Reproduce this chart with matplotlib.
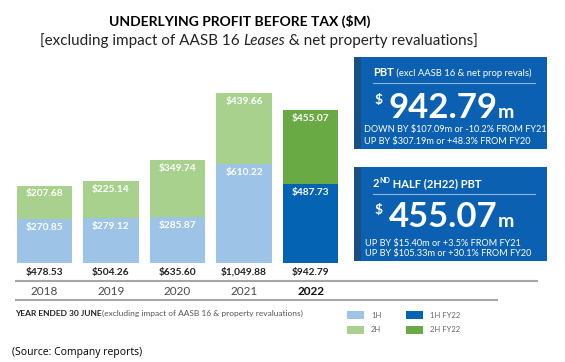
import matplotlib
matplotlib.use('Agg')
import matplotlib.pyplot as plt
from matplotlib.patches import Rectangle

# data
years = ['2018', '2019', '2020', '2021', '2022']
first_half = [270.85, 279.12, 285.87, 610.22, 487.73]
second_half = [207.68, 225.14, 349.74, 439.66, 455.07]
totals = [478.53, 504.26, 635.60, 1049.88, 942.79]

C_1H = '#9DC3E6'
C_2H = '#A9D18E'
C_1H_FY22 = '#0563B3'
C_2H_FY22 = '#6AAA45'
C_BOX = '#0B60B2'
C_STRIPE = '#1B4E82'

FONT = 'Lato'
plt.rcParams['font.family'] = [FONT, 'DejaVu Sans']

fig = plt.figure(figsize=(5.65, 3.62), dpi=100)
W, H = 565, 362

# bar axes, placed in pixel terms
ax_left, ax_right = 11, 344
base_y, top_y = 263, 85
ax = fig.add_axes([ax_left / W, (H - base_y) / H,
                   (ax_right - ax_left) / W, (base_y - top_y) / H])
x = list(range(len(years)))
c1 = [C_1H] * 4 + [C_1H_FY22]
c2 = [C_2H] * 4 + [C_2H_FY22]
ax.bar(x, first_half, width=0.83, color=c1, edgecolor='none')
ax.bar(x, second_half, width=0.83, bottom=first_half, color=c2, edgecolor='none')
ax.set_xlim(-0.5, len(years) - 0.5)
ax.set_ylim(0, 1100)
ax.axis('off')

for i in x:
    ax.annotate(f'${first_half[i]:,.2f}', (i, first_half[i]), xytext=(0, -6),
                textcoords='offset points', ha='center', va='center',
                color='white', fontsize=7.3, fontweight='bold')
    ax.annotate(f'${second_half[i]:,.2f}', (i, totals[i]), xytext=(0, -6),
                textcoords='offset points', ha='center', va='center',
                color='white', fontsize=7.3, fontweight='bold')
    ax.annotate(f'${totals[i]:,.2f}', (i, 0), xytext=(0, -6.5),
                textcoords='offset points', ha='center', va='center',
                color='#222222', fontsize=7.3, fontweight='bold')
    last = i == len(years) - 1
    ax.annotate(years[i], (i, 0), xytext=(0, -20.5),
                textcoords='offset points', ha='center', va='center',
                color='#111111' if last else '#4a4a4a', fontsize=8.5,
                fontweight='bold' if last else 'normal')

# overlay in pixel coordinates for everything else
ov = fig.add_axes([0, 0, 1, 1], facecolor='none')
ov.set_xlim(0, W)
ov.set_ylim(H, 0)
ov.axis('off')

renderer = fig.canvas.get_renderer()


def seq(x0, y, parts, **kw):
    # draw text pieces one after another on the same baseline
    cx = x0
    for txt, style in parts:
        st = dict(kw)
        st.update(style)
        dy = st.pop('dy', 0)
        t = ov.text(cx, y + dy, txt, va='baseline', ha='left', **st)
        bb = t.get_window_extent(renderer)
        cx += bb.width
    return cx


# title
ov.text(240, 21, 'UNDERLYING PROFIT BEFORE TAX ($M)', ha='center', va='center',
        fontsize=10, fontweight='bold', color='black')
sub = [('[excluding impact of AASB 16 ', {}),
       ('Leases', {'fontstyle': 'italic'}),
       (' & net property revaluations]', {})]
# measure for centring
tmp_w = 0
for txt, style in sub:
    t = ov.text(0, 0, txt, fontsize=11, **style)
    tmp_w += t.get_window_extent(renderer).width
    t.remove()
seq(259 - tmp_w / 2, 45, sub, fontsize=11, color='#222222')

# separator lines
ov.plot([15, 538], [281, 281], color='#A6A6A6', lw=1.5, solid_capstyle='butt')
ov.plot([15, 498], [300, 300], color='#A6A6A6', lw=1.5, solid_capstyle='butt')

# boxes
for (y0, h) in [(57, 92), (167, 94)]:
    ov.add_patch(Rectangle((354, y0), 193, h, color=C_BOX, lw=0))
    ov.add_patch(Rectangle((354, y0), 7, h, color=C_STRIPE, lw=0))

white = {'color': 'white'}
seq(373, 76, [('PBT', {'fontweight': 'bold', 'fontsize': 8}),
              (' (excl AASB 16 & net prop revals)', {'fontsize': 6.8})], **white)
ov.plot([373, 535], [83, 83], color='#8FB4DE', lw=0.8)
seq(375, 104, [('$', {'fontsize': 10, 'fontweight': 'bold'})], **white)
seq(389, 118, [('942.79', {'fontsize': 25, 'fontweight': 'bold'}),
               ('m', {'fontsize': 14, 'fontweight': 'bold'})], **white)
ov.text(364, 132, 'DOWN BY $107.09m or -10.2% FROM FY21', fontsize=6.6, va='baseline', **white)
ov.text(364, 144, 'UP BY $307.19m or +48.3% FROM FY20', fontsize=6.6, va='baseline', **white)

seq(373, 187, [('2', {'fontweight': 'bold', 'fontsize': 8}),
               ('ND', {'fontweight': 'bold', 'fontsize': 5, 'dy': -4}),
               (' HALF (2H22) PBT', {'fontweight': 'bold', 'fontsize': 8})], **white)
ov.plot([373, 535], [194, 194], color='#8FB4DE', lw=0.8)
seq(375, 214, [('$', {'fontsize': 10, 'fontweight': 'bold'})], **white)
seq(389, 227, [('455.07', {'fontsize': 25, 'fontweight': 'bold'}),
               ('m', {'fontsize': 14, 'fontweight': 'bold'})], **white)
ov.text(365, 246, 'UP BY $15.40m or +3.5% FROM FY21', fontsize=6.6, va='baseline', **white)
ov.text(365, 256, 'UP BY $105.33m or +30.1% FROM FY20', fontsize=6.6, va='baseline', **white)

# footer
seq(15, 316, [('YEAR ENDED 30 JUNE', {'fontweight': 'bold', 'color': '#222222'}),
              ('(excluding impact of AASB 16 & property revaluations)', {'color': '#555555'})],
    fontsize=6)

legend = [(347, 315, C_1H, '1H'), (347, 330, C_2H, '2H'),
          (406, 315, C_1H_FY22, '1H FY22'), (406, 330, C_2H_FY22, '2H FY22')]
for lx, ly, col, lab in legend:
    ov.add_patch(Rectangle((lx, ly - 4), 17, 8, color=col, lw=0))
    ov.text(lx + 24, ly, lab, fontsize=5.5, va='center', color='#666666')

ov.text(12, 352, '(Source: Company reports)', fontsize=7.5, va='center',
        color='black', family=['Open Sans', 'DejaVu Sans'])

fig.savefig('out.png', dpi=100)
